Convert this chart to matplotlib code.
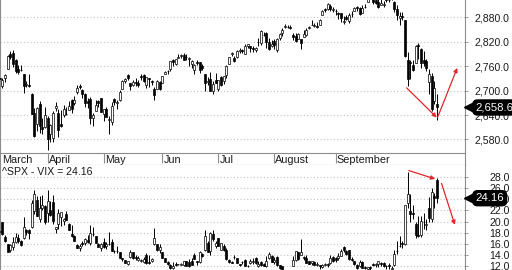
import matplotlib
matplotlib.use('Agg')

import matplotlib.pyplot as plt
import matplotlib.transforms as mtransforms
import numpy as np
import pandas as pd

plt.rcParams['font.family'] = ['Liberation Sans', 'DejaVu Sans']

# trading days, 5 Mar 2018 .. 26 Oct 2018
dates = pd.bdate_range('2018-03-05', '2018-10-26')
dates = dates.drop(pd.to_datetime(['2018-03-30', '2018-05-28', '2018-07-04', '2018-09-03']))

# ^SPX daily open / high / low / close
spx_open = [2681, 2731, 2711, 2732, 2753, 2791, 2792, 2775, 2754, 2750, 2741, 2715, 2714, 2691, 2646, 2619, 2667, 2611, 2611,
            2634, 2593, 2584, 2657, 2645, 2617, 2639, 2643, 2653, 2676, 2670, 2697, 2711, 2701, 2692, 2675, 2680, 2634, 2651, 2675, 2683,
            2643, 2654, 2628, 2622, 2680, 2670, 2678, 2705, 2723, 2738, 2719, 2713, 2721, 2718, 2735, 2739, 2714, 2731, 2723, 2705, 2703, 2721,
            2718, 2742, 2748, 2754, 2775, 2765, 2780, 2785, 2787, 2783, 2777, 2765, 2752, 2770, 2770, 2760, 2742, 2722, 2729, 2698, 2727,
            2705, 2734, 2724, 2738, 2766, 2789, 2780, 2783, 2797, 2799, 2789, 2811, 2809, 2804, 2799, 2820, 2817, 2836, 2842, 2820, 2809,
            2822, 2800, 2829, 2841, 2856, 2856, 2857, 2838, 2835, 2827, 2827, 2831, 2838, 2853, 2861, 2860, 2860, 2862, 2885, 2901, 2900, 2908, 2898,
            2897, 2892, 2891, 2868, 2881, 2872, 2888, 2896, 2906, 2903, 2891, 2906, 2919, 2936, 2925, 2922, 2917, 2911, 2910,
            2926, 2924, 2931, 2919, 2902, 2878, 2883, 2874, 2776, 2770, 2763, 2767, 2812, 2802, 2776, 2774, 2721, 2737, 2675, 2667]
spx_high = [2728, 2732, 2731, 2741, 2787, 2797, 2801, 2777, 2764, 2762, 2741, 2725, 2740, 2695, 2657, 2661, 2675, 2632, 2659,
            2638, 2619, 2650, 2672, 2656, 2653, 2665, 2661, 2675, 2680, 2686, 2713, 2717, 2703, 2694, 2682, 2684, 2645, 2677, 2677, 2683,
            2655, 2661, 2637, 2673, 2683, 2676, 2701, 2726, 2732, 2742, 2719, 2727, 2731, 2726, 2740, 2742, 2733, 2731, 2727, 2710, 2726, 2723,
            2736, 2749, 2752, 2772, 2779, 2779, 2790, 2790, 2792, 2789, 2782, 2775, 2765, 2775, 2770, 2765, 2742, 2733, 2746, 2724, 2743,
            2727, 2737, 2737, 2764, 2784, 2795, 2785, 2799, 2805, 2802, 2815, 2816, 2810, 2810, 2808, 2829, 2849, 2845, 2844, 2829, 2825,
            2826, 2829, 2841, 2853, 2863, 2862, 2862, 2842, 2843, 2843, 2827, 2850, 2855, 2859, 2873, 2867, 2868, 2876, 2899, 2903, 2916, 2912, 2906,
            2901, 2894, 2892, 2884, 2886, 2892, 2895, 2906, 2908, 2905, 2911, 2912, 2935, 2941, 2926, 2924, 2931, 2927, 2920,
            2937, 2931, 2939, 2920, 2910, 2894, 2894, 2874, 2796, 2775, 2775, 2813, 2817, 2806, 2797, 2779, 2753, 2743, 2723, 2693]
spx_low = [2675, 2711, 2706, 2722, 2753, 2779, 2759, 2744, 2741, 2749, 2694, 2710, 2709, 2642, 2586, 2601, 2597, 2594, 2609,
           2553, 2574, 2573, 2649, 2586, 2610, 2635, 2639, 2652, 2645, 2665, 2692, 2703, 2682, 2660, 2658, 2617, 2612, 2651, 2660, 2648,
           2625, 2635, 2594, 2615, 2664, 2655, 2674, 2704, 2718, 2727, 2702, 2712, 2711, 2708, 2726, 2721, 2707, 2708, 2714, 2676, 2703, 2702,
           2718, 2740, 2740, 2749, 2760, 2763, 2780, 2780, 2775, 2776, 2761, 2757, 2741, 2764, 2744, 2752, 2699, 2715, 2699, 2691, 2718,
           2699, 2712, 2716, 2731, 2766, 2786, 2770, 2781, 2792, 2793, 2789, 2805, 2796, 2795, 2795, 2811, 2812, 2835, 2805, 2799, 2808,
           2803, 2796, 2825, 2835, 2855, 2853, 2852, 2825, 2819, 2826, 2803, 2831, 2834, 2851, 2861, 2856, 2854, 2862, 2885, 2893, 2898, 2895, 2893,
           2885, 2876, 2868, 2864, 2875, 2867, 2880, 2896, 2895, 2886, 2890, 2903, 2919, 2928, 2913, 2913, 2903, 2910, 2907,
           2917, 2919, 2922, 2893, 2874, 2862, 2875, 2784, 2711, 2729, 2749, 2767, 2779, 2755, 2760, 2749, 2692, 2651, 2667, 2628]
spx_close = [2720, 2728, 2727, 2739, 2786, 2783, 2765, 2749, 2747, 2752, 2712, 2716, 2711, 2643, 2588, 2658, 2612, 2605, 2641,
             2582, 2615, 2644, 2662, 2604, 2613, 2656, 2642, 2663, 2656, 2677, 2706, 2708, 2693, 2670, 2670, 2634, 2639, 2666, 2670, 2648,
             2655, 2635, 2630, 2663, 2672, 2672, 2697, 2723, 2728, 2730, 2711, 2722, 2720, 2713, 2733, 2725, 2733, 2728, 2721, 2690, 2724, 2705,
             2735, 2747, 2749, 2772, 2770, 2779, 2782, 2787, 2776, 2782, 2780, 2774, 2763, 2767, 2750, 2755, 2718, 2724, 2699, 2716, 2718,
             2726, 2714, 2736, 2760, 2784, 2793, 2774, 2798, 2801, 2798, 2809, 2815, 2804, 2802, 2806, 2820, 2846, 2837, 2819, 2802, 2816,
             2813, 2827, 2840, 2850, 2858, 2857, 2853, 2833, 2821, 2839, 2818, 2840, 2850, 2857, 2862, 2861, 2856, 2875, 2897, 2898, 2914, 2901, 2902,
             2896, 2888, 2878, 2872, 2877, 2887, 2888, 2904, 2904, 2888, 2904, 2907, 2930, 2930, 2919, 2916, 2906, 2915, 2914,
             2924, 2923, 2926, 2902, 2886, 2884, 2881, 2786, 2728, 2767, 2750, 2809, 2809, 2769, 2768, 2756, 2741, 2656, 2706, 2658.69]

# VIX daily open / high / low / close
vix_open = [20.6, 18.1, 19.9, 17.2, 15.9, 14.9, 15.5, 16.3, 17.0, 16.6, 17.0, 18.4, 18.5, 19.0, 21.9, 23.8, 20.5, 22.5, 22.7,
            21.5, 22.0, 23.4, 18.6, 19.5, 20.8, 20.1, 21.4, 19.6, 17.8, 17.4, 15.8, 15.2, 16.1, 16.2, 16.7, 16.2, 17.7, 17.4, 16.0, 15.2,
            16.3, 15.6, 16.0, 16.3, 14.8, 14.8, 14.6, 13.4, 13.1, 12.5, 13.7, 14.5, 13.6, 13.2, 12.9, 12.8, 14.0, 12.7, 12.9, 15.9, 16.0, 14.9,
            14.6, 13.4, 12.8, 12.3, 11.7, 12.4, 12.4, 12.3, 12.3, 12.9, 12.8, 13.0, 14.1, 12.9, 12.8, 14.2, 14.9, 16.1, 14.7, 17.8, 15.7,
            17.0, 15.0, 15.6, 15.0, 13.2, 12.7, 13.6, 13.4, 12.5, 12.7, 13.2, 12.1, 12.6, 12.8, 13.5, 12.1, 12.7, 12.5, 12.0, 13.4, 13.8,
            12.7, 13.7, 12.2, 12.0, 11.2, 11.0, 10.9, 12.1, 13.2, 14.5, 14.0, 13.7, 13.4, 12.9, 12.6, 12.8, 12.3, 12.2, 11.9, 12.2, 12.5, 12.6, 13.6,
            13.5, 13.5, 13.9, 15.4, 14.7, 15.0, 13.3, 12.9, 12.2, 12.1, 12.8, 11.8, 11.6, 11.9, 12.4, 12.3, 12.4, 12.6, 12.6,
            12.0, 12.2, 11.6, 12.2, 14.8, 15.6, 16.1, 16.0, 23.3, 21.8, 21.6, 19.6, 17.6, 17.6, 19.9, 19.4, 22.4, 20.4, 24.6, 27.4]
vix_high = [22.0, 18.8, 19.9, 17.6, 16.0, 16.0, 17.2, 17.9, 17.7, 16.7, 20.8, 18.6, 18.6, 23.8, 25.7, 24.5, 24.5, 24.8, 22.9,
            25.7, 23.7, 24.7, 19.0, 22.2, 21.5, 20.6, 21.8, 19.8, 19.3, 17.6, 16.0, 15.9, 16.6, 17.1, 17.6, 19.4, 19.0, 17.5, 16.2, 16.1,
            17.0, 16.3, 18.2, 16.8, 15.0, 15.6, 14.6, 13.5, 13.2, 13.0, 15.0, 14.5, 14.1, 13.8, 13.3, 13.6, 14.3, 14.0, 13.5, 18.8, 16.0, 16.0,
            14.6, 13.5, 13.0, 12.4, 12.8, 12.7, 12.5, 12.6, 13.0, 13.0, 13.3, 13.4, 14.4, 13.0, 14.7, 14.3, 18.5, 16.5, 18.1, 18.4, 16.6,
            17.0, 16.2, 15.9, 15.2, 13.3, 12.9, 14.0, 13.5, 12.5, 12.9, 13.3, 12.3, 13.3, 13.4, 13.6, 12.9, 12.9, 12.6, 13.8, 14.6, 14.0,
            13.6, 13.9, 12.3, 12.0, 11.3, 11.3, 11.3, 13.8, 14.8, 14.6, 16.9, 13.8, 14.1, 13.0, 12.9, 12.9, 12.7, 12.2, 12.4, 12.6, 12.6, 14.0, 13.9,
            13.7, 14.3, 15.1, 15.6, 15.0, 15.0, 13.6, 12.9, 12.5, 13.1, 12.9, 12.0, 11.9, 12.0, 12.6, 12.6, 12.9, 12.7, 12.8,
            12.3, 12.6, 12.0, 15.0, 16.5, 17.4, 16.5, 23.0, 28.8, 24.9, 22.9, 19.9, 21.0, 21.0, 21.5, 20.5, 24.4, 26.0, 25.1, 27.8]
vix_low = [17.6, 17.6, 17.6, 16.4, 14.5, 14.6, 14.9, 16.1, 16.1, 15.6, 16.9, 17.6, 16.9, 18.8, 21.4, 20.9, 19.9, 22.0, 19.6,
           19.9, 20.9, 19.6, 17.9, 18.7, 19.2, 19.4, 20.2, 18.4, 17.3, 16.5, 15.2, 14.8, 15.6, 15.8, 16.2, 15.8, 17.4, 16.1, 15.4, 14.8,
           15.2, 15.1, 15.8, 14.7, 14.4, 14.3, 13.4, 13.0, 12.6, 12.3, 13.5, 13.3, 13.2, 13.0, 12.8, 12.6, 12.5, 12.5, 12.8, 15.8, 14.8, 14.3,
           13.4, 12.7, 12.3, 11.6, 11.5, 12.0, 12.2, 12.2, 12.0, 12.0, 11.9, 12.3, 13.3, 12.2, 12.6, 13.6, 14.7, 14.6, 14.0, 16.5, 15.2,
           15.6, 14.9, 14.8, 13.1, 12.6, 12.6, 13.3, 12.6, 12.1, 12.5, 12.0, 11.8, 12.5, 12.4, 12.5, 11.9, 12.0, 12.0, 11.9, 13.3, 12.8,
           12.5, 12.1, 11.6, 11.1, 10.8, 10.7, 10.8, 12.0, 13.0, 13.1, 14.0, 13.2, 12.6, 12.4, 12.2, 12.2, 12.0, 11.6, 11.7, 12.0, 11.8, 12.5, 12.7,
           12.8, 13.1, 13.8, 14.5, 14.1, 13.2, 12.9, 12.3, 11.6, 11.9, 11.7, 11.5, 11.1, 11.3, 12.0, 11.9, 11.8, 12.0, 11.9,
           11.6, 11.6, 11.3, 12.0, 14.2, 15.5, 15.2, 15.8, 22.5, 19.9, 20.5, 17.1, 17.3, 17.3, 18.6, 18.4, 20.0, 19.9, 22.5, 23.3]
vix_close = [18.73, 18.36, 17.76, 16.54, 14.64, 15.78, 16.35, 17.23, 16.59, 15.80, 19.02, 18.20, 17.86, 23.34, 24.87, 21.03, 22.50, 22.87, 19.97,
             23.62, 21.10, 20.06, 18.94, 21.49, 21.77, 20.47, 20.24, 18.49, 17.41, 16.56, 15.25, 15.60, 15.96, 16.88, 16.34, 18.02, 17.84, 16.24, 15.41, 15.93,
             15.49, 15.97, 15.90, 14.77, 14.75, 14.71, 13.42, 13.23, 12.65, 12.93, 14.63, 13.42, 13.43, 13.42, 13.08, 13.22, 12.58, 12.53, 13.22, 17.02, 14.94, 15.43,
             13.46, 12.74, 12.40, 11.64, 12.13, 12.18, 12.35, 12.34, 12.94, 12.12, 11.98, 12.31, 13.35, 12.79, 14.64, 13.77, 17.33, 14.64, 17.91, 16.85, 16.09,
             15.60, 16.14, 14.97, 13.37, 12.69, 12.64, 13.63, 12.58, 12.18, 12.83, 12.06, 12.10, 12.87, 12.86, 12.62, 12.41, 12.29, 12.14, 13.03, 14.26, 12.83,
             13.15, 12.19, 11.64, 11.27, 10.93, 10.85, 11.27, 13.16, 14.78, 13.31, 14.64, 13.45, 12.64, 12.49, 12.86, 12.25, 12.41, 11.99, 12.16, 12.50, 12.25, 13.53, 12.86,
             13.16, 13.91, 14.65, 14.88, 14.16, 13.22, 13.14, 12.37, 11.68, 12.79, 11.75, 11.75, 11.80, 11.68, 12.20, 12.42, 12.89, 12.41, 12.12,
             12.00, 12.05, 11.61, 14.22, 14.82, 15.69, 15.95, 22.96, 24.98, 21.31, 21.30, 17.62, 17.40, 20.06, 19.89, 19.64, 20.71, 25.23, 24.22, 24.16]

month_names = ['March', 'April', 'May', 'Jun', 'Jul', 'August', 'September']
spx_ticks = [2580, 2640, 2700, 2760, 2820, 2880]
vix_ticks = [12, 14, 16, 18, 20, 22, 24, 26, 28]

# hand drawn trend arrows (day index, value)
spx_arrows = [((153.6, 2707), (164.9, 2634)), ((165.2, 2634), (172.6, 2756))]
vix_arrows = [((154.4, 29.1), (164.3, 27.6)), ((166.7, 26.8), (171.7, 19.4))]

GRAY = '#8c8c8c'
TXT = '#1a1a1a'
FS = 7.6
XLIM = (1.12, 175.5)

fig = plt.figure(figsize=(5.12, 2.70), dpi=100)
W = 465 / 512
ax1 = fig.add_axes([0, 1 - 153.3 / 270, W, 153.3 / 270])
axm = fig.add_axes([0, 1 - 164.5 / 270, W, 11.2 / 270])
ax2 = fig.add_axes([0, 0, W, 1 - 164.5 / 270])

x = np.arange(len(dates))


def candles(ax, o, h, l, c):
    o = np.array(o); h = np.array(h); l = np.array(l); c = np.array(c)
    ax.vlines(x, l, h, color='black', lw=0.7, zorder=2)
    up = c >= o
    ax.bar(x[up], (c - o)[up], bottom=o[up], width=0.85, color='white', edgecolor='black', lw=0.5, zorder=3)
    ax.bar(x[~up], (o - c)[~up], bottom=c[~up], width=0.85, color='black', edgecolor='black', lw=0.5, zorder=3)


def style(ax, ticks, ylim, fmt):
    ax.set_xlim(*XLIM)
    ax.set_ylim(*ylim)
    ax.set_xticks([])
    ax.yaxis.tick_right()
    ax.set_yticks(ticks)
    ax.set_yticklabels([fmt.format(t) for t in ticks])
    ax.tick_params(axis='y', length=2.5, width=0.6, color=GRAY, pad=29.5, labelsize=FS, labelcolor=TXT)
    for lab in ax.get_yticklabels():
        lab.set_horizontalalignment('right')
    ax.grid(axis='y', color='#c4c4c4', linestyle=(0, (1, 2)), lw=0.8)
    ax.set_axisbelow(True)
    for s in ['top', 'bottom']:
        ax.spines[s].set_visible(False)
    for s in ['left', 'right']:
        ax.spines[s].set_color(GRAY)
        ax.spines[s].set_linewidth(0.8)


def last_box(ax, val, label):
    tr = mtransforms.blended_transform_factory(ax.transAxes, ax.transData)
    ax.text(1.0225, val, label, transform=tr, color='white', fontsize=FS + 0.6, va='center', ha='left',
            clip_on=False, zorder=10,
            bbox=dict(boxstyle='round,pad=0.22,rounding_size=0.4', fc='black', ec='black'))
    ax.plot([1.0085], [val], marker='<', ms=6.5, color='black', transform=tr, clip_on=False, zorder=10)


candles(ax1, spx_open, spx_high, spx_low, spx_close)
style(ax1, spx_ticks, (2546, 2923), '{:,.1f}')
last_box(ax1, spx_close[-1], '{:,.2f}'.format(spx_close[-1]))

candles(ax2, vix_open, vix_high, vix_low, vix_close)
style(ax2, vix_ticks, (11.34, 30.18), '{:.1f}')
last_box(ax2, vix_close[-1], '{:.2f}'.format(vix_close[-1]))
ax2.text(0.004, 0.93, '^SPX - VIX = {:.2f}'.format(vix_close[-1]), transform=ax2.transAxes,
         fontsize=FS, color=TXT, va='center', ha='left')

for a, b in spx_arrows:
    ax1.annotate('', xy=b, xytext=a, arrowprops=dict(arrowstyle='-|>', color='#e3262b', lw=0.9,
                 mutation_scale=6, shrinkA=0, shrinkB=0), annotation_clip=False)
for a, b in vix_arrows:
    ax2.annotate('', xy=b, xytext=a, arrowprops=dict(arrowstyle='-|>', color='#e3262b', lw=0.9,
                 mutation_scale=6, shrinkA=0, shrinkB=0), annotation_clip=False)

# month band
axm.set_xlim(*XLIM)
axm.set_ylim(0, 1)
axm.set_xticks([])
axm.set_yticks([])
for s in axm.spines.values():
    s.set_color(GRAY)
    s.set_linewidth(0.8)
months = dates.month
for name, m in zip(month_names, range(3, 10)):
    first = int(np.argmax(months == m))
    pos = max(first, XLIM[0] + 0.4)
    if first > XLIM[0]:
        axm.vlines(first, 0.15, 1, color=GRAY, lw=0.8)
    axm.text(pos + 0.4, 0.42, name, fontsize=FS + 0.2, color=TXT, va='center', ha='left')

fig.savefig('out.png', dpi=100)
